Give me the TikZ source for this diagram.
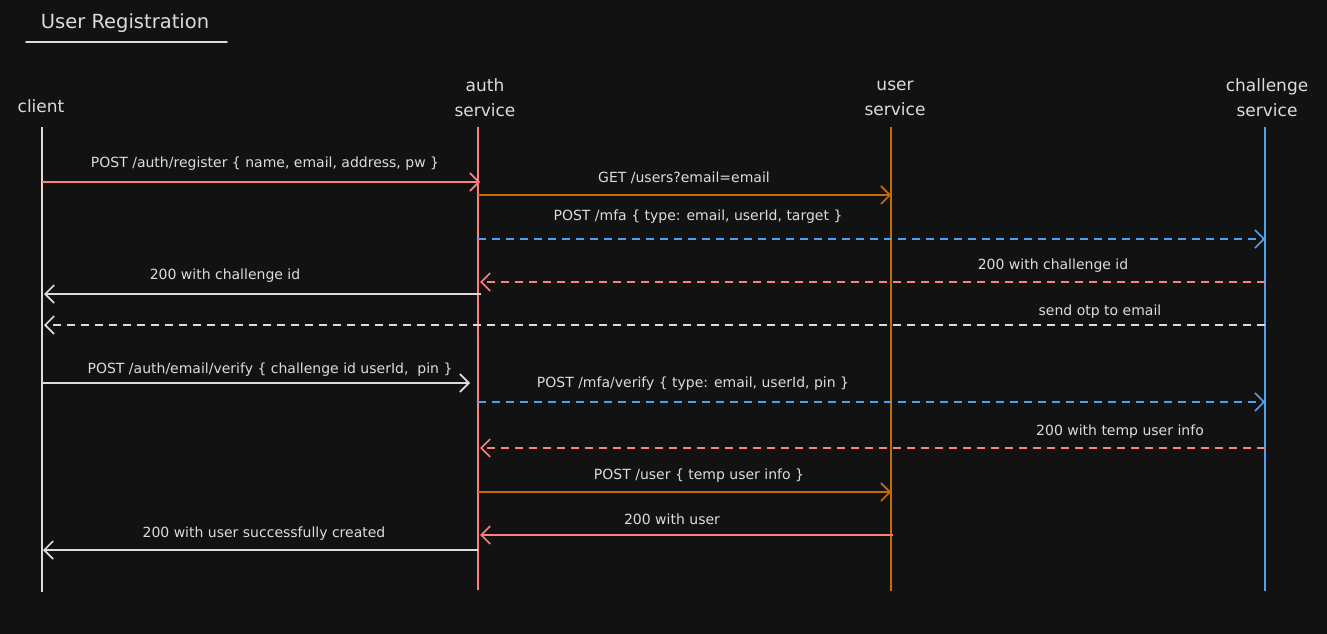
\documentclass[tikz,border=0pt]{standalone}
\usepackage{fontspec}
\setmainfont{DejaVu Sans}
\usetikzlibrary{arrows.meta}
\definecolor{bgdark}{HTML}{121212}
\definecolor{inkgray}{HTML}{DCDCDC}
\definecolor{inkred}{HTML}{FF7F7F}
\definecolor{inkorange}{HTML}{C66B06}
\definecolor{inkblue}{HTML}{4DA1EE}
\begin{document}
\begin{tikzpicture}[x=1pt, y=-1pt, >={Straight Barb[length=9pt,width=18pt,line width=1.6pt]},
    font=\fontsize{14}{16}\selectfont,
    head/.style={text=inkgray, font=\fontsize{17}{25}\selectfont, align=center},
    lbl/.style={text=inkgray, inner sep=1pt},
    life/.style={line width=1.8pt},
    msg/.style={line width=1.6pt, ->},
    msgdash/.style={msg, dash pattern=on 8pt off 6pt}]
  \useasboundingbox[fill=bgdark] (0,0) rectangle (1327,634);
  % title
  \node[text=inkgray, font=\fontsize{19.5}{22}\selectfont] (title) at (125,23) {User Registration};
  \draw[inkgray, line width=1.6pt, line cap=round] (26,42) -- (227,42);
  % lifelines
  \node[head] (client) at (41,106) {client};
  \node[head] (auth) at (485,98) {auth\\service};
  \node[head] (user) at (895,98) {user\\service};
  \node[head] (chal) at (1267,98) {challenge\\service};
  \coordinate (cl) at (42,127);
  \coordinate (au) at (478,127);
  \coordinate (us) at (891,127);
  \coordinate (ch) at (1265,127);
  \draw[life, inkgray] (cl) -- (cl |- 0,592);
  \draw[life, inkred] (au) -- (au |- 0,590);
  \draw[life, inkorange] (us) -- (us |- 0,591);
  \draw[life, inkblue] (ch) -- (ch |- 0,591);
  % messages
  \draw[msg, inkred] (cl |- 0,182) -- ([xshift=2pt]au |- 0,182);
  \node[lbl] (m1) at (265,164) {POST /auth/register \{ name, email, address, pw \}};
  \draw[msg, inkorange] (au |- 0,195) -- (us |- 0,195);
  \node[lbl] (m2) at (684,178) {GET /users?email=email};
  \draw[msgdash, inkblue] (au |- 0,239) -- (ch |- 0,239);
  \node[lbl] (m3) at (698,217) {POST /mfa \{ type: email, userId, target \}};
  \draw[msgdash, inkred] (ch |- 0,282) -- ([xshift=2pt]au |- 0,282);
  \node[lbl] (m4) at (1053,266) {200 with challenge id};
  \draw[msg, inkgray] ([xshift=3pt]au |- 0,294) -- ([xshift=2pt]cl |- 0,294);
  \node[lbl] (m5) at (225,276) {200 with challenge id};
  \draw[msgdash, inkgray] (ch |- 0,325) -- ([xshift=2pt]cl |- 0,325);
  \node[lbl] (m6) at (1100,312) {send otp to email};
  \draw[msg, inkgray] (cl |- 0,383) -- ([xshift=-8pt]au |- 0,383);
  \node[lbl] (m7) at (270,370) {POST /auth/email/verify \{ challenge id userId,\ \ pin \}};
  \draw[msgdash, inkblue] (au |- 0,402) -- (ch |- 0,402);
  \node[lbl] (m8) at (693,384) {POST /mfa/verify \{ type: email, userId, pin \}};
  \draw[msgdash, inkred] (ch |- 0,448) -- ([xshift=2pt]au |- 0,448);
  \node[lbl] (m9) at (1120,432) {200 with temp user info};
  \draw[msg, inkorange] (au |- 0,492) -- (us |- 0,492);
  \node[lbl] (m10) at (699,476) {POST /user \{ temp user info \}};
  \draw[msg, inkred] ([xshift=2pt]us |- 0,535) -- ([xshift=2pt]au |- 0,535);
  \node[lbl] (m11) at (672,519) {200 with user};
  \draw[msg, inkgray] (au |- 0,550) -- ([xshift=1pt]cl |- 0,550);
  \node[lbl] (m12) at (264,534) {200 with user successfully created};
\end{tikzpicture}
\end{document}
